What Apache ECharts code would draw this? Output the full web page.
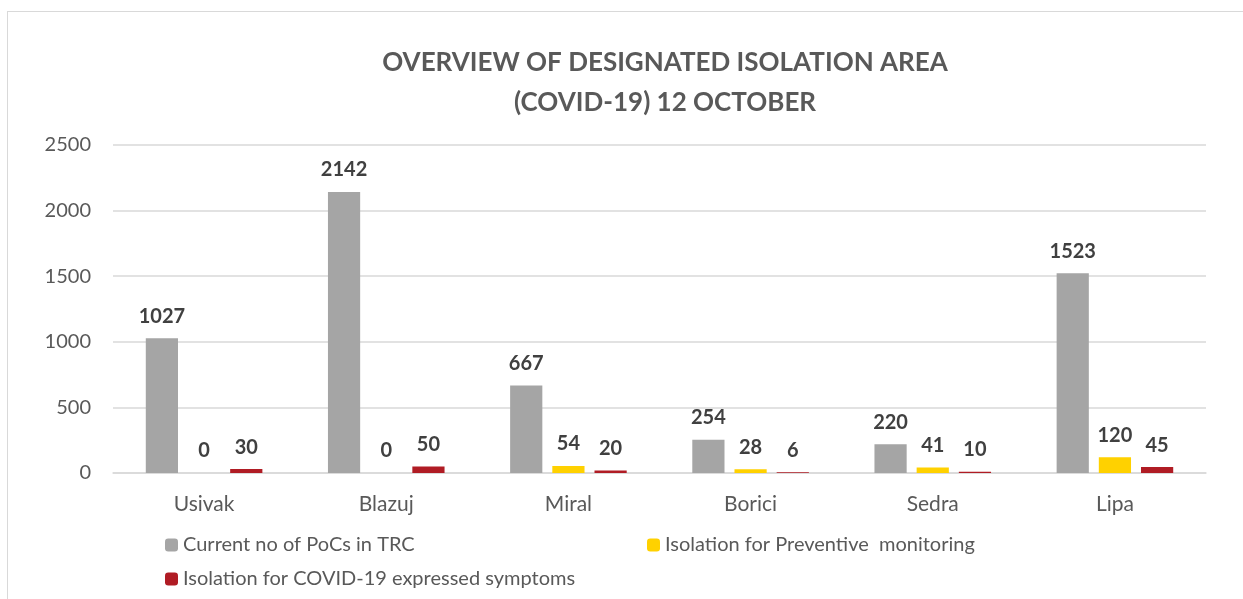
<!DOCTYPE html>
<html lang="en">

<head>
    <meta charset="UTF-8">
    <title>eCharts</title>
    <script src="https://cdn.jsdelivr.net/npm/echarts@6.0.0/dist/echarts.min.js"></script>
    <style>
        body { margin: 0; background: #fff; }
        #frame { position: absolute; left: 7px; top: 11px; width: 1300px; height: 700px; border: 1px solid #d9d9d9; }
        #main { position: absolute; left: 0; top: 0; width: 1243px; height: 599px; }
    </style>
</head>

<body>
    <div id="frame"></div>
    <div id="main"></div>
    <script type="text/javascript">
        const camps = ['Usivak', 'Blazuj', 'Miral', 'Borici', 'Sedra', 'Lipa'];
        const currentPoCs = [1027, 2142, 667, 254, 220, 1523];
        const preventive = [0, 0, 54, 28, 41, 120];
        const symptoms = [30, 50, 20, 6, 10, 45];
        const yTicks = [0, 500, 1000, 1500, 2000, 2500];

        const seriesNames = [
            'Current no of PoCs in TRC',
            'Isolation for Preventive  monitoring',
            'Isolation for COVID-19 expressed symptoms'
        ];
        const colors = ['#a5a5a5', '#ffd100', '#b01c24'];
        const font = 'Lato, "Open Sans", sans-serif';

        let myChart = echarts.init(document.getElementById('main'));

        const barLabel = {
            show: true,
            position: 'top',
            distance: 12,
            color: '#404040',
            fontWeight: 'bold',
            fontSize: 20,
            fontFamily: font
        };

        const legendText = { color: '#595959', fontSize: 20, fontFamily: font };

        let options = {
            animation: false,
            color: colors,
            title: {
                text: 'OVERVIEW OF DESIGNATED ISOLATION AREA\n(COVID-19) 12 OCTOBER',
                left: 660,
                top: 38,
                textAlign: 'center',
                textStyle: {
                    color: '#595959',
                    fontWeight: 'bold',
                    fontSize: 26,
                    lineHeight: 40,
                    fontFamily: font
                }
            },
            legend: [
                { data: [seriesNames[0]], left: 160, top: 530, itemWidth: 13, itemHeight: 13, itemGap: 6, textStyle: legendText },
                { data: [seriesNames[1]], left: 642, top: 530, itemWidth: 13, itemHeight: 13, itemGap: 6, textStyle: legendText },
                { data: [seriesNames[2]], left: 160, top: 564, itemWidth: 13, itemHeight: 13, itemGap: 6, textStyle: legendText }
            ],
            grid: { left: 113, right: 37, top: 145, bottom: 126 },
            xAxis: {
                type: 'category',
                data: camps,
                axisLine: { lineStyle: { color: '#d9d9d9', width: 1.5 } },
                axisTick: { show: false },
                axisLabel: { color: '#595959', fontSize: 21, fontFamily: font, margin: 21 }
            },
            yAxis: {
                type: 'value',
                min: yTicks[0],
                max: yTicks[yTicks.length - 1],
                interval: 500,
                axisLine: { show: false },
                axisTick: { show: false },
                axisLabel: { color: '#595959', fontSize: 20, fontFamily: font, margin: 22, formatter: v => String(v) },
                splitLine: { lineStyle: { color: '#d9d9d9', width: 1.5 } }
            },
            series: [
                { name: seriesNames[0], type: 'bar', data: currentPoCs, label: barLabel, barGap: '31%', barCategoryGap: '36%' },
                { name: seriesNames[1], type: 'bar', data: preventive, label: barLabel },
                { name: seriesNames[2], type: 'bar', data: symptoms, label: barLabel }
            ]
        };

        myChart.setOption(options);
    </script>
</body>

</html>
